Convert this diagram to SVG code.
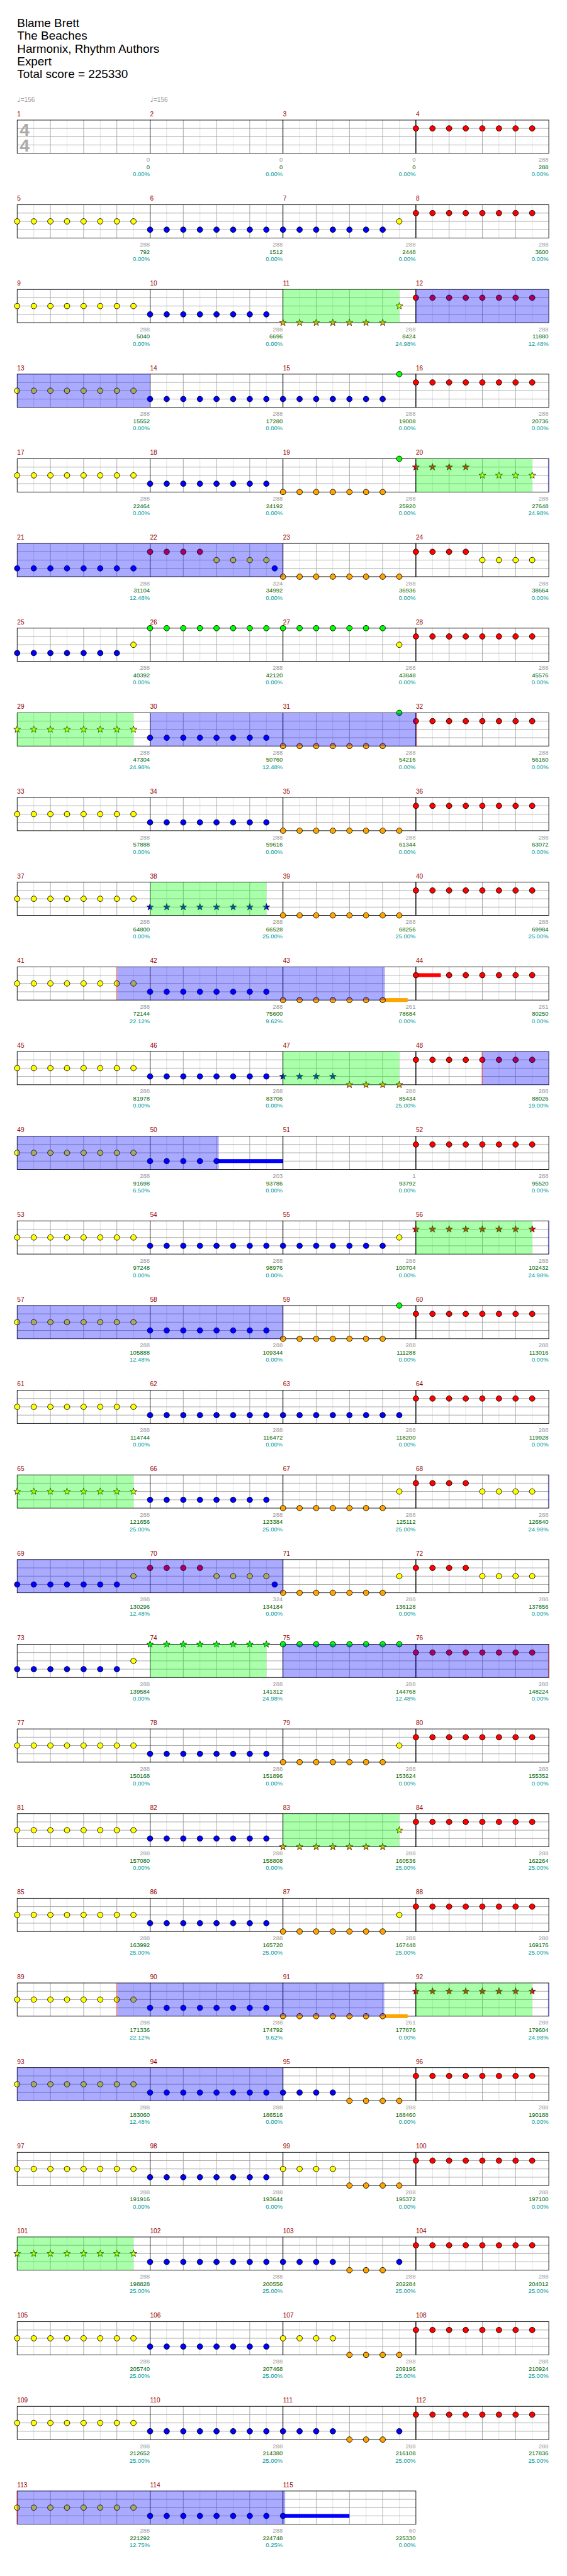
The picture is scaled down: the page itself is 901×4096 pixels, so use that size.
<svg xmlns="http://www.w3.org/2000/svg" xmlns:xlink="http://www.w3.org/1999/xlink" width="901" height="4096" viewBox="0 0 901 4096">
<style>
.ti{font-size:21.5px;fill:#000}
.mn{font-size:11.5px;fill:#900}
.a,.b,.c{font-size:10.8px;text-anchor:end}
.a{fill:#999}.b{fill:#060}.c{fill:#099}
.tp{font-size:11.5px;fill:#999}
.ts{font-size:32px;font-weight:bold;fill:#aaa;text-anchor:middle}
.gz{fill:#0f0;fill-opacity:.333}
.bz{fill:#00f;fill-opacity:.333}
.pk{fill:#f00;fill-opacity:.35}
</style>
<defs>
<g id="staff">
<path d="M30 0V60M90 0V60M150 0V60M210 0V60" stroke="#dcdcdc"/>
<path d="M60 0V60M120 0V60M180 0V60M0 15H240M0 30H240M0 45H240" stroke="#a0a0a0"/>
<rect width="240" height="60" fill="none" stroke="#000"/>
</g>
<circle id="G" cy="0" r="5" fill="#0f0" stroke="#000"/>
<circle id="R" cy="15" r="5" fill="#f00" stroke="#000"/>
<circle id="Y" cy="30" r="5" fill="#ff0" stroke="#000"/>
<circle id="B" cy="45" r="5" fill="#00f" stroke="#000"/>
<circle id="O" cy="60" r="5" fill="#ffa500" stroke="#000"/>
<path id="st" d="M0-6.5L1.5-2.1 6.2-2 2.5.8 3.8 5.3 0 2.6-3.8 5.3-2.5.8-6.2-2-1.5-2.1Z" stroke="#000" stroke-width=".8"/>
<use id="SG" href="#st" fill="#0f0"/>
<use id="SR" href="#st" y="15" fill="#f00"/>
<use id="SY" href="#st" y="30" fill="#ff0"/>
<use id="SB" href="#st" y="45" fill="#00f"/>
<use id="SO" href="#st" y="60" fill="#ffa500"/>
<g id="G4"><use href="#G"/><use href="#G" x="30"/><use href="#G" x="60"/><use href="#G" x="90"/></g>
<g id="R4"><use href="#R"/><use href="#R" x="30"/><use href="#R" x="60"/><use href="#R" x="90"/></g>
<g id="Y4"><use href="#Y"/><use href="#Y" x="30"/><use href="#Y" x="60"/><use href="#Y" x="90"/></g>
<g id="B4"><use href="#B"/><use href="#B" x="30"/><use href="#B" x="60"/><use href="#B" x="90"/></g>
<g id="O4"><use href="#O"/><use href="#O" x="30"/><use href="#O" x="60"/><use href="#O" x="90"/></g>
<g id="G3"><use href="#G"/><use href="#G" x="30"/><use href="#G" x="60"/></g>
<g id="B3"><use href="#B"/><use href="#B" x="30"/><use href="#B" x="60"/></g>
<g id="O3"><use href="#O"/><use href="#O" x="30"/><use href="#O" x="60"/></g>
<g id="G8"><use href="#G4"/><use href="#G4" x="120"/></g>
<g id="R8"><use href="#R4"/><use href="#R4" x="120"/></g>
<g id="Y8"><use href="#Y4"/><use href="#Y4" x="120"/></g>
<g id="B8"><use href="#B4"/><use href="#B4" x="120"/></g>
<g id="O8"><use href="#O4"/><use href="#O4" x="120"/></g>
<g id="G7"><use href="#G4"/><use href="#G3" x="120"/></g>
<g id="B7"><use href="#B4"/><use href="#B3" x="120"/></g>
<g id="O7"><use href="#O4"/><use href="#O3" x="120"/></g>
<g id="SG4"><use href="#SG"/><use href="#SG" x="30"/><use href="#SG" x="60"/><use href="#SG" x="90"/></g>
<g id="SR4"><use href="#SR"/><use href="#SR" x="30"/><use href="#SR" x="60"/><use href="#SR" x="90"/></g>
<g id="SY4"><use href="#SY"/><use href="#SY" x="30"/><use href="#SY" x="60"/><use href="#SY" x="90"/></g>
<g id="SB4"><use href="#SB"/><use href="#SB" x="30"/><use href="#SB" x="60"/><use href="#SB" x="90"/></g>
<g id="SO4"><use href="#SO"/><use href="#SO" x="30"/><use href="#SO" x="60"/><use href="#SO" x="90"/></g>
<g id="SG8"><use href="#SG4"/><use href="#SG4" x="120"/></g>
<g id="SR8"><use href="#SR4"/><use href="#SR4" x="120"/></g>
<g id="SY8"><use href="#SY4"/><use href="#SY4" x="120"/></g>
<g id="SB8"><use href="#SB4"/><use href="#SB4" x="120"/></g>
<g id="SO7"><use href="#SO4"/><use href="#SO" x="120"/><use href="#SO" x="150"/><use href="#SO" x="180"/></g>
</defs>
<rect width="901" height="4096" fill="#fff"/>
<g transform="scale(0.88)" font-family="'Liberation Sans', Arial, sans-serif">
<g id="header">
<text class="ti" x="31" y="49">Blame Brett</text>
<text class="ti" x="31" y="72">The Beaches</text>
<text class="ti" x="31" y="95">Harmonix, Rhythm Authors</text>
<text class="ti" x="31" y="118">Expert</text>
<text class="ti" x="31" y="141">Total score = 225330</text>
<text class="tp" x="31" y="184"><tspan font-family="'DejaVu Sans', sans-serif" font-size="13">♩</tspan>=156</text>
<text class="tp" x="271" y="184"><tspan font-family="'DejaVu Sans', sans-serif" font-size="13">♩</tspan>=156</text>
</g>
<g id="measures">
<g id="m1" transform="translate(31 217)"><use href="#staff"/><text class="ts" x="13.5" y="28">4</text><text class="ts" x="13.5" y="57">4</text><text class="mn" y="-7">1</text><text class="a" x="239.5" y="75.5">0</text><text class="b" x="239.5" y="88.7">0</text><text class="c" x="239.5" y="101.7">0.00%</text></g>
<g id="m2" transform="translate(271 217)"><use href="#staff"/><text class="mn" y="-7">2</text><text class="a" x="239.5" y="75.5">0</text><text class="b" x="239.5" y="88.7">0</text><text class="c" x="239.5" y="101.7">0.00%</text></g>
<g id="m3" transform="translate(511 217)"><use href="#staff"/><text class="mn" y="-7">3</text><text class="a" x="239.5" y="75.5">0</text><text class="b" x="239.5" y="88.7">0</text><text class="c" x="239.5" y="101.7">0.00%</text></g>
<g id="m4" transform="translate(751 217)"><use href="#staff"/><use href="#R8"/><text class="mn" y="-7">4</text><text class="a" x="239.5" y="75.5">288</text><text class="b" x="239.5" y="88.7">288</text><text class="c" x="239.5" y="101.7">0.00%</text></g>
<g id="m5" transform="translate(31 370)"><use href="#staff"/><use href="#Y8"/><text class="mn" y="-7">5</text><text class="a" x="239.5" y="75.5">288</text><text class="b" x="239.5" y="88.7">792</text><text class="c" x="239.5" y="101.7">0.00%</text></g>
<g id="m6" transform="translate(271 370)"><use href="#staff"/><use href="#B8"/><text class="mn" y="-7">6</text><text class="a" x="239.5" y="75.5">288</text><text class="b" x="239.5" y="88.7">1512</text><text class="c" x="239.5" y="101.7">0.00%</text></g>
<g id="m7" transform="translate(511 370)"><use href="#staff"/><use href="#B7"/><use href="#Y" x="210"/><text class="mn" y="-7">7</text><text class="a" x="239.5" y="75.5">288</text><text class="b" x="239.5" y="88.7">2448</text><text class="c" x="239.5" y="101.7">0.00%</text></g>
<g id="m8" transform="translate(751 370)"><use href="#staff"/><use href="#R8"/><text class="mn" y="-7">8</text><text class="a" x="239.5" y="75.5">288</text><text class="b" x="239.5" y="88.7">3600</text><text class="c" x="239.5" y="101.7">0.00%</text></g>
<g id="m9" transform="translate(31 523)"><use href="#staff"/><use href="#Y8"/><text class="mn" y="-7">9</text><text class="a" x="239.5" y="75.5">288</text><text class="b" x="239.5" y="88.7">5040</text><text class="c" x="239.5" y="101.7">0.00%</text></g>
<g id="m10" transform="translate(271 523)"><use href="#staff"/><use href="#B8"/><text class="mn" y="-7">10</text><text class="a" x="239.5" y="75.5">288</text><text class="b" x="239.5" y="88.7">6696</text><text class="c" x="239.5" y="101.7">0.00%</text></g>
<g id="m11" transform="translate(511 523)"><use href="#staff"/><use href="#SO7"/><use href="#SY" x="210"/><text class="mn" y="-7">11</text><text class="a" x="239.5" y="75.5">288</text><text class="b" x="239.5" y="88.7">8424</text><text class="c" x="239.5" y="101.7">24.98%</text></g>
<g id="m12" transform="translate(751 523)"><use href="#staff"/><use href="#R8"/><text class="mn" y="-7">12</text><text class="a" x="239.5" y="75.5">288</text><text class="b" x="239.5" y="88.7">11880</text><text class="c" x="239.5" y="101.7">12.48%</text></g>
<g id="m13" transform="translate(31 676)"><use href="#staff"/><use href="#Y8"/><text class="mn" y="-7">13</text><text class="a" x="239.5" y="75.5">288</text><text class="b" x="239.5" y="88.7">15552</text><text class="c" x="239.5" y="101.7">0.00%</text></g>
<g id="m14" transform="translate(271 676)"><use href="#staff"/><use href="#B8"/><text class="mn" y="-7">14</text><text class="a" x="239.5" y="75.5">288</text><text class="b" x="239.5" y="88.7">17280</text><text class="c" x="239.5" y="101.7">0.00%</text></g>
<g id="m15" transform="translate(511 676)"><use href="#staff"/><use href="#B7"/><use href="#G" x="210"/><text class="mn" y="-7">15</text><text class="a" x="239.5" y="75.5">288</text><text class="b" x="239.5" y="88.7">19008</text><text class="c" x="239.5" y="101.7">0.00%</text></g>
<g id="m16" transform="translate(751 676)"><use href="#staff"/><use href="#R8"/><text class="mn" y="-7">16</text><text class="a" x="239.5" y="75.5">288</text><text class="b" x="239.5" y="88.7">20736</text><text class="c" x="239.5" y="101.7">0.00%</text></g>
<g id="m17" transform="translate(31 829)"><use href="#staff"/><use href="#Y8"/><text class="mn" y="-7">17</text><text class="a" x="239.5" y="75.5">288</text><text class="b" x="239.5" y="88.7">22464</text><text class="c" x="239.5" y="101.7">0.00%</text></g>
<g id="m18" transform="translate(271 829)"><use href="#staff"/><use href="#B8"/><text class="mn" y="-7">18</text><text class="a" x="239.5" y="75.5">288</text><text class="b" x="239.5" y="88.7">24192</text><text class="c" x="239.5" y="101.7">0.00%</text></g>
<g id="m19" transform="translate(511 829)"><use href="#staff"/><use href="#O7"/><use href="#G" x="210"/><text class="mn" y="-7">19</text><text class="a" x="239.5" y="75.5">288</text><text class="b" x="239.5" y="88.7">25920</text><text class="c" x="239.5" y="101.7">0.00%</text></g>
<g id="m20" transform="translate(751 829)"><use href="#staff"/><use href="#SR4"/><use href="#SY4" x="120"/><text class="mn" y="-7">20</text><text class="a" x="239.5" y="75.5">288</text><text class="b" x="239.5" y="88.7">27648</text><text class="c" x="239.5" y="101.7">24.98%</text></g>
<g id="m21" transform="translate(31 982)"><use href="#staff"/><use href="#B8"/><text class="mn" y="-7">21</text><text class="a" x="239.5" y="75.5">288</text><text class="b" x="239.5" y="88.7">31104</text><text class="c" x="239.5" y="101.7">12.48%</text></g>
<g id="m22" transform="translate(271 982)"><use href="#staff"/><use href="#R4"/><use href="#Y4" x="120"/><use href="#B" x="225"/><text class="mn" y="-7">22</text><text class="a" x="239.5" y="75.5">324</text><text class="b" x="239.5" y="88.7">34992</text><text class="c" x="239.5" y="101.7">0.00%</text></g>
<g id="m23" transform="translate(511 982)"><use href="#staff"/><use href="#O8"/><text class="mn" y="-7">23</text><text class="a" x="239.5" y="75.5">288</text><text class="b" x="239.5" y="88.7">36936</text><text class="c" x="239.5" y="101.7">0.00%</text></g>
<g id="m24" transform="translate(751 982)"><use href="#staff"/><use href="#R4"/><use href="#Y4" x="120"/><text class="mn" y="-7">24</text><text class="a" x="239.5" y="75.5">288</text><text class="b" x="239.5" y="88.7">38664</text><text class="c" x="239.5" y="101.7">0.00%</text></g>
<g id="m25" transform="translate(31 1135)"><use href="#staff"/><use href="#B7"/><use href="#Y" x="210"/><text class="mn" y="-7">25</text><text class="a" x="239.5" y="75.5">288</text><text class="b" x="239.5" y="88.7">40392</text><text class="c" x="239.5" y="101.7">0.00%</text></g>
<g id="m26" transform="translate(271 1135)"><use href="#staff"/><use href="#G8"/><text class="mn" y="-7">26</text><text class="a" x="239.5" y="75.5">288</text><text class="b" x="239.5" y="88.7">42120</text><text class="c" x="239.5" y="101.7">0.00%</text></g>
<g id="m27" transform="translate(511 1135)"><use href="#staff"/><use href="#G7"/><use href="#Y" x="210"/><text class="mn" y="-7">27</text><text class="a" x="239.5" y="75.5">288</text><text class="b" x="239.5" y="88.7">43848</text><text class="c" x="239.5" y="101.7">0.00%</text></g>
<g id="m28" transform="translate(751 1135)"><use href="#staff"/><use href="#R8"/><text class="mn" y="-7">28</text><text class="a" x="239.5" y="75.5">288</text><text class="b" x="239.5" y="88.7">45576</text><text class="c" x="239.5" y="101.7">0.00%</text></g>
<g id="m29" transform="translate(31 1288)"><use href="#staff"/><use href="#SY8"/><text class="mn" y="-7">29</text><text class="a" x="239.5" y="75.5">288</text><text class="b" x="239.5" y="88.7">47304</text><text class="c" x="239.5" y="101.7">24.98%</text></g>
<g id="m30" transform="translate(271 1288)"><use href="#staff"/><use href="#B8"/><text class="mn" y="-7">30</text><text class="a" x="239.5" y="75.5">288</text><text class="b" x="239.5" y="88.7">50760</text><text class="c" x="239.5" y="101.7">12.48%</text></g>
<g id="m31" transform="translate(511 1288)"><use href="#staff"/><use href="#O7"/><use href="#G" x="210"/><text class="mn" y="-7">31</text><text class="a" x="239.5" y="75.5">288</text><text class="b" x="239.5" y="88.7">54216</text><text class="c" x="239.5" y="101.7">0.00%</text></g>
<g id="m32" transform="translate(751 1288)"><use href="#staff"/><use href="#R8"/><text class="mn" y="-7">32</text><text class="a" x="239.5" y="75.5">288</text><text class="b" x="239.5" y="88.7">56160</text><text class="c" x="239.5" y="101.7">0.00%</text></g>
<g id="m33" transform="translate(31 1441)"><use href="#staff"/><use href="#Y8"/><text class="mn" y="-7">33</text><text class="a" x="239.5" y="75.5">288</text><text class="b" x="239.5" y="88.7">57888</text><text class="c" x="239.5" y="101.7">0.00%</text></g>
<g id="m34" transform="translate(271 1441)"><use href="#staff"/><use href="#B8"/><text class="mn" y="-7">34</text><text class="a" x="239.5" y="75.5">288</text><text class="b" x="239.5" y="88.7">59616</text><text class="c" x="239.5" y="101.7">0.00%</text></g>
<g id="m35" transform="translate(511 1441)"><use href="#staff"/><use href="#O8"/><text class="mn" y="-7">35</text><text class="a" x="239.5" y="75.5">288</text><text class="b" x="239.5" y="88.7">61344</text><text class="c" x="239.5" y="101.7">0.00%</text></g>
<g id="m36" transform="translate(751 1441)"><use href="#staff"/><use href="#R8"/><text class="mn" y="-7">36</text><text class="a" x="239.5" y="75.5">288</text><text class="b" x="239.5" y="88.7">63072</text><text class="c" x="239.5" y="101.7">0.00%</text></g>
<g id="m37" transform="translate(31 1594)"><use href="#staff"/><use href="#Y8"/><text class="mn" y="-7">37</text><text class="a" x="239.5" y="75.5">288</text><text class="b" x="239.5" y="88.7">64800</text><text class="c" x="239.5" y="101.7">0.00%</text></g>
<g id="m38" transform="translate(271 1594)"><use href="#staff"/><use href="#SB8"/><text class="mn" y="-7">38</text><text class="a" x="239.5" y="75.5">288</text><text class="b" x="239.5" y="88.7">66528</text><text class="c" x="239.5" y="101.7">25.00%</text></g>
<g id="m39" transform="translate(511 1594)"><use href="#staff"/><use href="#O8"/><text class="mn" y="-7">39</text><text class="a" x="239.5" y="75.5">288</text><text class="b" x="239.5" y="88.7">68256</text><text class="c" x="239.5" y="101.7">25.00%</text></g>
<g id="m40" transform="translate(751 1594)"><use href="#staff"/><use href="#R8"/><text class="mn" y="-7">40</text><text class="a" x="239.5" y="75.5">288</text><text class="b" x="239.5" y="88.7">69984</text><text class="c" x="239.5" y="101.7">25.00%</text></g>
<g id="m41" transform="translate(31 1747)"><use href="#staff"/><use href="#Y8"/><text class="mn" y="-7">41</text><text class="a" x="239.5" y="75.5">288</text><text class="b" x="239.5" y="88.7">72144</text><text class="c" x="239.5" y="101.7">22.12%</text></g>
<g id="m42" transform="translate(271 1747)"><use href="#staff"/><use href="#B8"/><text class="mn" y="-7">42</text><text class="a" x="239.5" y="75.5">288</text><text class="b" x="239.5" y="88.7">75600</text><text class="c" x="239.5" y="101.7">9.62%</text></g>
<g id="m43" transform="translate(511 1747)"><use href="#staff"/><rect x="180" y="56.5" width="45" height="7" fill="#ffa500"/><use href="#O7"/><text class="mn" y="-7">43</text><text class="a" x="239.5" y="75.5">261</text><text class="b" x="239.5" y="88.7">78684</text><text class="c" x="239.5" y="101.7">0.00%</text></g>
<g id="m44" transform="translate(751 1747)"><use href="#staff"/><rect x="0" y="11.5" width="45" height="7" fill="#f00"/><use href="#R"/><use href="#R4" x="60"/><use href="#R" x="180"/><use href="#R" x="210"/><text class="mn" y="-7">44</text><text class="a" x="239.5" y="75.5">261</text><text class="b" x="239.5" y="88.7">80250</text><text class="c" x="239.5" y="101.7">0.00%</text></g>
<g id="m45" transform="translate(31 1900)"><use href="#staff"/><use href="#Y8"/><text class="mn" y="-7">45</text><text class="a" x="239.5" y="75.5">288</text><text class="b" x="239.5" y="88.7">81978</text><text class="c" x="239.5" y="101.7">0.00%</text></g>
<g id="m46" transform="translate(271 1900)"><use href="#staff"/><use href="#B8"/><text class="mn" y="-7">46</text><text class="a" x="239.5" y="75.5">288</text><text class="b" x="239.5" y="88.7">83706</text><text class="c" x="239.5" y="101.7">0.00%</text></g>
<g id="m47" transform="translate(511 1900)"><use href="#staff"/><use href="#SB4"/><use href="#SO4" x="120"/><text class="mn" y="-7">47</text><text class="a" x="239.5" y="75.5">288</text><text class="b" x="239.5" y="88.7">85434</text><text class="c" x="239.5" y="101.7">25.00%</text></g>
<g id="m48" transform="translate(751 1900)"><use href="#staff"/><use href="#R8"/><text class="mn" y="-7">48</text><text class="a" x="239.5" y="75.5">288</text><text class="b" x="239.5" y="88.7">88026</text><text class="c" x="239.5" y="101.7">19.00%</text></g>
<g id="m49" transform="translate(31 2053)"><use href="#staff"/><use href="#Y8"/><text class="mn" y="-7">49</text><text class="a" x="239.5" y="75.5">288</text><text class="b" x="239.5" y="88.7">91698</text><text class="c" x="239.5" y="101.7">6.50%</text></g>
<g id="m50" transform="translate(271 2053)"><use href="#staff"/><rect x="120" y="41.5" width="120" height="7" fill="#00f"/><use href="#B4"/><use href="#B" x="120"/><text class="mn" y="-7">50</text><text class="a" x="239.5" y="75.5">203</text><text class="b" x="239.5" y="88.7">93786</text><text class="c" x="239.5" y="101.7">0.00%</text></g>
<g id="m51" transform="translate(511 2053)"><use href="#staff"/><text class="mn" y="-7">51</text><text class="a" x="239.5" y="75.5">1</text><text class="b" x="239.5" y="88.7">93792</text><text class="c" x="239.5" y="101.7">0.00%</text></g>
<g id="m52" transform="translate(751 2053)"><use href="#staff"/><use href="#R8"/><text class="mn" y="-7">52</text><text class="a" x="239.5" y="75.5">288</text><text class="b" x="239.5" y="88.7">95520</text><text class="c" x="239.5" y="101.7">0.00%</text></g>
<g id="m53" transform="translate(31 2206)"><use href="#staff"/><use href="#Y8"/><text class="mn" y="-7">53</text><text class="a" x="239.5" y="75.5">288</text><text class="b" x="239.5" y="88.7">97248</text><text class="c" x="239.5" y="101.7">0.00%</text></g>
<g id="m54" transform="translate(271 2206)"><use href="#staff"/><use href="#B8"/><text class="mn" y="-7">54</text><text class="a" x="239.5" y="75.5">288</text><text class="b" x="239.5" y="88.7">98976</text><text class="c" x="239.5" y="101.7">0.00%</text></g>
<g id="m55" transform="translate(511 2206)"><use href="#staff"/><use href="#B7"/><use href="#Y" x="210"/><text class="mn" y="-7">55</text><text class="a" x="239.5" y="75.5">288</text><text class="b" x="239.5" y="88.7">100704</text><text class="c" x="239.5" y="101.7">0.00%</text></g>
<g id="m56" transform="translate(751 2206)"><use href="#staff"/><use href="#SR8"/><text class="mn" y="-7">56</text><text class="a" x="239.5" y="75.5">288</text><text class="b" x="239.5" y="88.7">102432</text><text class="c" x="239.5" y="101.7">24.98%</text></g>
<g id="m57" transform="translate(31 2359)"><use href="#staff"/><use href="#Y8"/><text class="mn" y="-7">57</text><text class="a" x="239.5" y="75.5">288</text><text class="b" x="239.5" y="88.7">105888</text><text class="c" x="239.5" y="101.7">12.48%</text></g>
<g id="m58" transform="translate(271 2359)"><use href="#staff"/><use href="#B8"/><text class="mn" y="-7">58</text><text class="a" x="239.5" y="75.5">288</text><text class="b" x="239.5" y="88.7">109344</text><text class="c" x="239.5" y="101.7">0.00%</text></g>
<g id="m59" transform="translate(511 2359)"><use href="#staff"/><use href="#O7"/><use href="#G" x="210"/><text class="mn" y="-7">59</text><text class="a" x="239.5" y="75.5">288</text><text class="b" x="239.5" y="88.7">111288</text><text class="c" x="239.5" y="101.7">0.00%</text></g>
<g id="m60" transform="translate(751 2359)"><use href="#staff"/><use href="#R8"/><text class="mn" y="-7">60</text><text class="a" x="239.5" y="75.5">288</text><text class="b" x="239.5" y="88.7">113016</text><text class="c" x="239.5" y="101.7">0.00%</text></g>
<g id="m61" transform="translate(31 2512)"><use href="#staff"/><use href="#Y8"/><text class="mn" y="-7">61</text><text class="a" x="239.5" y="75.5">288</text><text class="b" x="239.5" y="88.7">114744</text><text class="c" x="239.5" y="101.7">0.00%</text></g>
<g id="m62" transform="translate(271 2512)"><use href="#staff"/><use href="#B8"/><text class="mn" y="-7">62</text><text class="a" x="239.5" y="75.5">288</text><text class="b" x="239.5" y="88.7">116472</text><text class="c" x="239.5" y="101.7">0.00%</text></g>
<g id="m63" transform="translate(511 2512)"><use href="#staff"/><use href="#B8"/><text class="mn" y="-7">63</text><text class="a" x="239.5" y="75.5">288</text><text class="b" x="239.5" y="88.7">118200</text><text class="c" x="239.5" y="101.7">0.00%</text></g>
<g id="m64" transform="translate(751 2512)"><use href="#staff"/><use href="#R8"/><text class="mn" y="-7">64</text><text class="a" x="239.5" y="75.5">288</text><text class="b" x="239.5" y="88.7">119928</text><text class="c" x="239.5" y="101.7">0.00%</text></g>
<g id="m65" transform="translate(31 2665)"><use href="#staff"/><use href="#SY8"/><text class="mn" y="-7">65</text><text class="a" x="239.5" y="75.5">288</text><text class="b" x="239.5" y="88.7">121656</text><text class="c" x="239.5" y="101.7">25.00%</text></g>
<g id="m66" transform="translate(271 2665)"><use href="#staff"/><use href="#B8"/><text class="mn" y="-7">66</text><text class="a" x="239.5" y="75.5">288</text><text class="b" x="239.5" y="88.7">123384</text><text class="c" x="239.5" y="101.7">25.00%</text></g>
<g id="m67" transform="translate(511 2665)"><use href="#staff"/><use href="#O7"/><use href="#Y" x="210"/><text class="mn" y="-7">67</text><text class="a" x="239.5" y="75.5">288</text><text class="b" x="239.5" y="88.7">125112</text><text class="c" x="239.5" y="101.7">25.00%</text></g>
<g id="m68" transform="translate(751 2665)"><use href="#staff"/><use href="#R4"/><use href="#Y4" x="120"/><text class="mn" y="-7">68</text><text class="a" x="239.5" y="75.5">288</text><text class="b" x="239.5" y="88.7">126840</text><text class="c" x="239.5" y="101.7">24.98%</text></g>
<g id="m69" transform="translate(31 2818)"><use href="#staff"/><use href="#B7"/><use href="#Y" x="210"/><text class="mn" y="-7">69</text><text class="a" x="239.5" y="75.5">288</text><text class="b" x="239.5" y="88.7">130296</text><text class="c" x="239.5" y="101.7">12.48%</text></g>
<g id="m70" transform="translate(271 2818)"><use href="#staff"/><use href="#R4"/><use href="#Y4" x="120"/><use href="#B" x="225"/><text class="mn" y="-7">70</text><text class="a" x="239.5" y="75.5">324</text><text class="b" x="239.5" y="88.7">134184</text><text class="c" x="239.5" y="101.7">0.00%</text></g>
<g id="m71" transform="translate(511 2818)"><use href="#staff"/><use href="#O7"/><use href="#Y" x="210"/><text class="mn" y="-7">71</text><text class="a" x="239.5" y="75.5">288</text><text class="b" x="239.5" y="88.7">136128</text><text class="c" x="239.5" y="101.7">0.00%</text></g>
<g id="m72" transform="translate(751 2818)"><use href="#staff"/><use href="#R4"/><use href="#Y4" x="120"/><text class="mn" y="-7">72</text><text class="a" x="239.5" y="75.5">288</text><text class="b" x="239.5" y="88.7">137856</text><text class="c" x="239.5" y="101.7">0.00%</text></g>
<g id="m73" transform="translate(31 2971)"><use href="#staff"/><use href="#B7"/><use href="#Y" x="210"/><text class="mn" y="-7">73</text><text class="a" x="239.5" y="75.5">288</text><text class="b" x="239.5" y="88.7">139584</text><text class="c" x="239.5" y="101.7">0.00%</text></g>
<g id="m74" transform="translate(271 2971)"><use href="#staff"/><use href="#SG8"/><text class="mn" y="-7">74</text><text class="a" x="239.5" y="75.5">288</text><text class="b" x="239.5" y="88.7">141312</text><text class="c" x="239.5" y="101.7">24.98%</text></g>
<g id="m75" transform="translate(511 2971)"><use href="#staff"/><use href="#G8"/><text class="mn" y="-7">75</text><text class="a" x="239.5" y="75.5">288</text><text class="b" x="239.5" y="88.7">144768</text><text class="c" x="239.5" y="101.7">12.48%</text></g>
<g id="m76" transform="translate(751 2971)"><use href="#staff"/><use href="#R8"/><text class="mn" y="-7">76</text><text class="a" x="239.5" y="75.5">288</text><text class="b" x="239.5" y="88.7">148224</text><text class="c" x="239.5" y="101.7">0.00%</text></g>
<g id="m77" transform="translate(31 3124)"><use href="#staff"/><use href="#Y8"/><text class="mn" y="-7">77</text><text class="a" x="239.5" y="75.5">288</text><text class="b" x="239.5" y="88.7">150168</text><text class="c" x="239.5" y="101.7">0.00%</text></g>
<g id="m78" transform="translate(271 3124)"><use href="#staff"/><use href="#B8"/><text class="mn" y="-7">78</text><text class="a" x="239.5" y="75.5">288</text><text class="b" x="239.5" y="88.7">151896</text><text class="c" x="239.5" y="101.7">0.00%</text></g>
<g id="m79" transform="translate(511 3124)"><use href="#staff"/><use href="#O7"/><use href="#Y" x="210"/><text class="mn" y="-7">79</text><text class="a" x="239.5" y="75.5">288</text><text class="b" x="239.5" y="88.7">153624</text><text class="c" x="239.5" y="101.7">0.00%</text></g>
<g id="m80" transform="translate(751 3124)"><use href="#staff"/><use href="#R8"/><text class="mn" y="-7">80</text><text class="a" x="239.5" y="75.5">288</text><text class="b" x="239.5" y="88.7">155352</text><text class="c" x="239.5" y="101.7">0.00%</text></g>
<g id="m81" transform="translate(31 3277)"><use href="#staff"/><use href="#Y8"/><text class="mn" y="-7">81</text><text class="a" x="239.5" y="75.5">288</text><text class="b" x="239.5" y="88.7">157080</text><text class="c" x="239.5" y="101.7">0.00%</text></g>
<g id="m82" transform="translate(271 3277)"><use href="#staff"/><use href="#B8"/><text class="mn" y="-7">82</text><text class="a" x="239.5" y="75.5">288</text><text class="b" x="239.5" y="88.7">158808</text><text class="c" x="239.5" y="101.7">0.00%</text></g>
<g id="m83" transform="translate(511 3277)"><use href="#staff"/><use href="#SO7"/><use href="#SY" x="210"/><text class="mn" y="-7">83</text><text class="a" x="239.5" y="75.5">288</text><text class="b" x="239.5" y="88.7">160536</text><text class="c" x="239.5" y="101.7">25.00%</text></g>
<g id="m84" transform="translate(751 3277)"><use href="#staff"/><use href="#R8"/><text class="mn" y="-7">84</text><text class="a" x="239.5" y="75.5">288</text><text class="b" x="239.5" y="88.7">162264</text><text class="c" x="239.5" y="101.7">25.00%</text></g>
<g id="m85" transform="translate(31 3430)"><use href="#staff"/><use href="#Y8"/><text class="mn" y="-7">85</text><text class="a" x="239.5" y="75.5">288</text><text class="b" x="239.5" y="88.7">163992</text><text class="c" x="239.5" y="101.7">25.00%</text></g>
<g id="m86" transform="translate(271 3430)"><use href="#staff"/><use href="#B8"/><text class="mn" y="-7">86</text><text class="a" x="239.5" y="75.5">288</text><text class="b" x="239.5" y="88.7">165720</text><text class="c" x="239.5" y="101.7">25.00%</text></g>
<g id="m87" transform="translate(511 3430)"><use href="#staff"/><use href="#O7"/><use href="#Y" x="210"/><text class="mn" y="-7">87</text><text class="a" x="239.5" y="75.5">288</text><text class="b" x="239.5" y="88.7">167448</text><text class="c" x="239.5" y="101.7">25.00%</text></g>
<g id="m88" transform="translate(751 3430)"><use href="#staff"/><use href="#R8"/><text class="mn" y="-7">88</text><text class="a" x="239.5" y="75.5">288</text><text class="b" x="239.5" y="88.7">169176</text><text class="c" x="239.5" y="101.7">25.00%</text></g>
<g id="m89" transform="translate(31 3583)"><use href="#staff"/><use href="#Y8"/><text class="mn" y="-7">89</text><text class="a" x="239.5" y="75.5">288</text><text class="b" x="239.5" y="88.7">171336</text><text class="c" x="239.5" y="101.7">22.12%</text></g>
<g id="m90" transform="translate(271 3583)"><use href="#staff"/><use href="#B8"/><text class="mn" y="-7">90</text><text class="a" x="239.5" y="75.5">288</text><text class="b" x="239.5" y="88.7">174792</text><text class="c" x="239.5" y="101.7">9.62%</text></g>
<g id="m91" transform="translate(511 3583)"><use href="#staff"/><rect x="180" y="56.5" width="45" height="7" fill="#ffa500"/><use href="#O7"/><text class="mn" y="-7">91</text><text class="a" x="239.5" y="75.5">261</text><text class="b" x="239.5" y="88.7">177876</text><text class="c" x="239.5" y="101.7">0.00%</text></g>
<g id="m92" transform="translate(751 3583)"><use href="#staff"/><use href="#SR8"/><text class="mn" y="-7">92</text><text class="a" x="239.5" y="75.5">288</text><text class="b" x="239.5" y="88.7">179604</text><text class="c" x="239.5" y="101.7">24.98%</text></g>
<g id="m93" transform="translate(31 3736)"><use href="#staff"/><use href="#Y8"/><text class="mn" y="-7">93</text><text class="a" x="239.5" y="75.5">288</text><text class="b" x="239.5" y="88.7">183060</text><text class="c" x="239.5" y="101.7">12.48%</text></g>
<g id="m94" transform="translate(271 3736)"><use href="#staff"/><use href="#B8"/><text class="mn" y="-7">94</text><text class="a" x="239.5" y="75.5">288</text><text class="b" x="239.5" y="88.7">186516</text><text class="c" x="239.5" y="101.7">0.00%</text></g>
<g id="m95" transform="translate(511 3736)"><use href="#staff"/><use href="#B4"/><use href="#O4" x="120"/><text class="mn" y="-7">95</text><text class="a" x="239.5" y="75.5">288</text><text class="b" x="239.5" y="88.7">188460</text><text class="c" x="239.5" y="101.7">0.00%</text></g>
<g id="m96" transform="translate(751 3736)"><use href="#staff"/><use href="#R8"/><text class="mn" y="-7">96</text><text class="a" x="239.5" y="75.5">288</text><text class="b" x="239.5" y="88.7">190188</text><text class="c" x="239.5" y="101.7">0.00%</text></g>
<g id="m97" transform="translate(31 3889)"><use href="#staff"/><use href="#Y8"/><text class="mn" y="-7">97</text><text class="a" x="239.5" y="75.5">288</text><text class="b" x="239.5" y="88.7">191916</text><text class="c" x="239.5" y="101.7">0.00%</text></g>
<g id="m98" transform="translate(271 3889)"><use href="#staff"/><use href="#B8"/><text class="mn" y="-7">98</text><text class="a" x="239.5" y="75.5">288</text><text class="b" x="239.5" y="88.7">193644</text><text class="c" x="239.5" y="101.7">0.00%</text></g>
<g id="m99" transform="translate(511 3889)"><use href="#staff"/><use href="#Y4"/><use href="#O4" x="120"/><text class="mn" y="-7">99</text><text class="a" x="239.5" y="75.5">288</text><text class="b" x="239.5" y="88.7">195372</text><text class="c" x="239.5" y="101.7">0.00%</text></g>
<g id="m100" transform="translate(751 3889)"><use href="#staff"/><use href="#R8"/><text class="mn" y="-7">100</text><text class="a" x="239.5" y="75.5">288</text><text class="b" x="239.5" y="88.7">197100</text><text class="c" x="239.5" y="101.7">0.00%</text></g>
<g id="m101" transform="translate(31 4042)"><use href="#staff"/><use href="#SY8"/><text class="mn" y="-7">101</text><text class="a" x="239.5" y="75.5">288</text><text class="b" x="239.5" y="88.7">198828</text><text class="c" x="239.5" y="101.7">25.00%</text></g>
<g id="m102" transform="translate(271 4042)"><use href="#staff"/><use href="#B8"/><text class="mn" y="-7">102</text><text class="a" x="239.5" y="75.5">288</text><text class="b" x="239.5" y="88.7">200556</text><text class="c" x="239.5" y="101.7">25.00%</text></g>
<g id="m103" transform="translate(511 4042)"><use href="#staff"/><use href="#B4"/><use href="#O3" x="120"/><use href="#B" x="210"/><text class="mn" y="-7">103</text><text class="a" x="239.5" y="75.5">288</text><text class="b" x="239.5" y="88.7">202284</text><text class="c" x="239.5" y="101.7">25.00%</text></g>
<g id="m104" transform="translate(751 4042)"><use href="#staff"/><use href="#R8"/><text class="mn" y="-7">104</text><text class="a" x="239.5" y="75.5">288</text><text class="b" x="239.5" y="88.7">204012</text><text class="c" x="239.5" y="101.7">25.00%</text></g>
<g id="m105" transform="translate(31 4195)"><use href="#staff"/><use href="#Y8"/><text class="mn" y="-7">105</text><text class="a" x="239.5" y="75.5">288</text><text class="b" x="239.5" y="88.7">205740</text><text class="c" x="239.5" y="101.7">25.00%</text></g>
<g id="m106" transform="translate(271 4195)"><use href="#staff"/><use href="#B8"/><text class="mn" y="-7">106</text><text class="a" x="239.5" y="75.5">288</text><text class="b" x="239.5" y="88.7">207468</text><text class="c" x="239.5" y="101.7">25.00%</text></g>
<g id="m107" transform="translate(511 4195)"><use href="#staff"/><use href="#Y4"/><use href="#O4" x="120"/><text class="mn" y="-7">107</text><text class="a" x="239.5" y="75.5">288</text><text class="b" x="239.5" y="88.7">209196</text><text class="c" x="239.5" y="101.7">25.00%</text></g>
<g id="m108" transform="translate(751 4195)"><use href="#staff"/><use href="#R8"/><text class="mn" y="-7">108</text><text class="a" x="239.5" y="75.5">288</text><text class="b" x="239.5" y="88.7">210924</text><text class="c" x="239.5" y="101.7">25.00%</text></g>
<g id="m109" transform="translate(31 4348)"><use href="#staff"/><use href="#Y8"/><text class="mn" y="-7">109</text><text class="a" x="239.5" y="75.5">288</text><text class="b" x="239.5" y="88.7">212652</text><text class="c" x="239.5" y="101.7">25.00%</text></g>
<g id="m110" transform="translate(271 4348)"><use href="#staff"/><use href="#B8"/><text class="mn" y="-7">110</text><text class="a" x="239.5" y="75.5">288</text><text class="b" x="239.5" y="88.7">214380</text><text class="c" x="239.5" y="101.7">25.00%</text></g>
<g id="m111" transform="translate(511 4348)"><use href="#staff"/><use href="#B4"/><use href="#O3" x="120"/><use href="#B" x="210"/><text class="mn" y="-7">111</text><text class="a" x="239.5" y="75.5">288</text><text class="b" x="239.5" y="88.7">216108</text><text class="c" x="239.5" y="101.7">25.00%</text></g>
<g id="m112" transform="translate(751 4348)"><use href="#staff"/><use href="#R8"/><text class="mn" y="-7">112</text><text class="a" x="239.5" y="75.5">288</text><text class="b" x="239.5" y="88.7">217836</text><text class="c" x="239.5" y="101.7">25.00%</text></g>
<g id="m113" transform="translate(31 4501)"><use href="#staff"/><use href="#Y8"/><text class="mn" y="-7">113</text><text class="a" x="239.5" y="75.5">288</text><text class="b" x="239.5" y="88.7">221292</text><text class="c" x="239.5" y="101.7">12.75%</text></g>
<g id="m114" transform="translate(271 4501)"><use href="#staff"/><use href="#B8"/><text class="mn" y="-7">114</text><text class="a" x="239.5" y="75.5">288</text><text class="b" x="239.5" y="88.7">224748</text><text class="c" x="239.5" y="101.7">0.25%</text></g>
<g id="m115" transform="translate(511 4501)"><use href="#staff"/><rect x="0" y="41.5" width="120" height="7" fill="#00f"/><use href="#B"/><text class="mn" y="-7">115</text><text class="a" x="239.5" y="75.5">60</text><text class="b" x="239.5" y="88.7">225330</text><text class="c" x="239.5" y="101.7">0.00%</text></g>
</g>
<g id="zones">
<rect class="gz" x="511" y="523" width="210" height="60"/>
<rect class="gz" x="751" y="829" width="210" height="60"/>
<rect class="gz" x="31" y="1288" width="210" height="60"/>
<rect class="gz" x="271" y="1594" width="210" height="60"/>
<rect class="gz" x="511" y="1900" width="210" height="60"/>
<rect class="gz" x="751" y="2206" width="210" height="60"/>
<rect class="gz" x="31" y="2665" width="210" height="60"/>
<rect class="gz" x="271" y="2971" width="210" height="60"/>
<rect class="gz" x="511" y="3277" width="210" height="60"/>
<rect class="gz" x="751" y="3583" width="210" height="60"/>
<rect class="gz" x="31" y="4042" width="210" height="60"/>
<rect class="bz" x="751" y="523" width="240" height="60"/>
<rect class="bz" x="31" y="676" width="240" height="60"/>
<rect class="bz" x="989.5" y="829" width="1.5" height="60"/>
<rect class="bz" x="31" y="982" width="480" height="60"/>
<rect class="bz" x="271" y="1288" width="480" height="60"/>
<rect class="bz" x="212" y="1747" width="483" height="60"/>
<rect class="bz" x="871.5" y="1900" width="119.5" height="60"/>
<rect class="bz" x="31" y="2053" width="364" height="60"/>
<rect class="bz" x="989.5" y="2206" width="1.5" height="60"/>
<rect class="bz" x="31" y="2359" width="480" height="60"/>
<rect class="bz" x="989.5" y="2665" width="1.5" height="60"/>
<rect class="bz" x="31" y="2818" width="480" height="60"/>
<rect class="bz" x="511" y="2971" width="480" height="60"/>
<rect class="bz" x="212" y="3583" width="482" height="60"/>
<rect class="bz" x="989.5" y="3583" width="1.5" height="60"/>
<rect class="bz" x="31" y="3736" width="480" height="60"/>
<rect class="bz" x="31" y="4501" width="484" height="60"/>
<rect class="pk" x="751" y="1288" width="2" height="60"/>
<rect class="pk" x="210" y="1747" width="2" height="60"/>
<rect class="pk" x="869.5" y="1900" width="2" height="60"/>
<rect class="pk" x="989.5" y="2971" width="2" height="60"/>
<rect class="pk" x="210" y="3583" width="2" height="60"/>
<rect class="pk" x="30" y="4501" width="2" height="60"/>
</g>
</g>
</svg>
